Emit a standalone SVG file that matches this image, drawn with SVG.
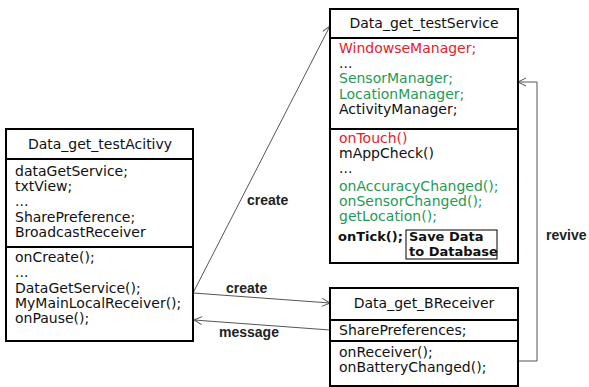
<svg xmlns="http://www.w3.org/2000/svg" width="589" height="387" viewBox="0 0 589 387">
<defs>
<marker id="arr" markerWidth="10" markerHeight="10" refX="9" refY="5" orient="auto" markerUnits="userSpaceOnUse">
<path d="M1,1 L9,5 L1,9" fill="none" stroke="#555" stroke-width="1"/>
</marker>
<style>
.box{fill:#fff;stroke:#000;stroke-width:2}
.ln{stroke:#000;stroke-width:2}
.t{font-family:"DejaVu Sans","Liberation Sans",sans-serif;font-size:14px;fill:#111}
.c{text-anchor:middle}
.r{fill:#e8202a}
.g{fill:#1f9a55}
.b{font-weight:bold;font-size:13px}
.lab{font-family:"Liberation Sans",Arial,sans-serif;font-size:14px;font-weight:bold;fill:#222}
.con{fill:none;stroke:#555;stroke-width:1}
</style>
</defs>
<rect width="589" height="387" fill="#fff"/>
<g id="connectors">
<line class="con" x1="193" y1="293" x2="330" y2="26" marker-end="url(#arr)"/>
<line class="con" x1="193" y1="293" x2="330" y2="303" marker-end="url(#arr)"/>
<line class="con" x1="330" y1="330" x2="194" y2="320" marker-end="url(#arr)"/>
<polyline class="con" points="518,361 537,361 537,82 518,82" marker-end="url(#arr)"/>
<text class="lab" x="247" y="205">create</text>
<text class="lab" x="226" y="293">create</text>
<text class="lab" x="219" y="337">message</text>
<text class="lab" x="546" y="240">revive</text>
</g>
<g id="activity">
<rect class="box" x="6" y="129" width="187" height="212"/>
<line class="ln" x1="6" y1="159" x2="193" y2="159"/>
<line class="ln" x1="6" y1="247" x2="193" y2="247"/>
<text class="t c" x="100" y="149">Data_get_testAcitivy</text>
<text class="t" x="15" y="176">dataGetService;</text>
<text class="t" x="15" y="191">txtView;</text>
<text class="t" x="15" y="206">...</text>
<text class="t" x="15" y="222">SharePreference;</text>
<text class="t" x="15" y="237">BroadcastReceiver</text>
<text class="t" x="15" y="262">onCreate();</text>
<text class="t" x="15" y="277">...</text>
<text class="t" x="15" y="293">DataGetService();</text>
<text class="t" x="15" y="308">MyMainLocalReceiver();</text>
<text class="t" x="15" y="323">onPause();</text>
</g>
<g id="service">
<rect class="box" x="330" y="9" width="188" height="254"/>
<line class="ln" x1="330" y1="38" x2="518" y2="38"/>
<line class="ln" x1="330" y1="129" x2="518" y2="129"/>
<text class="t c" x="424" y="28">Data_get_testService</text>
<text class="t r" x="339" y="53">WindowseManager;</text>
<text class="t" x="339" y="68">...</text>
<text class="t g" x="339" y="83">SensorManager;</text>
<text class="t g" x="339" y="99">LocationManager;</text>
<text class="t" x="339" y="114">ActivityManager;</text>
<text class="t r" x="339" y="143">onTouch()</text>
<text class="t" x="339" y="158">mAppCheck()</text>
<text class="t" x="339" y="173">...</text>
<text class="t g" x="339" y="191">onAccuracyChanged();</text>
<text class="t g" x="339" y="206">onSensorChanged();</text>
<text class="t g" x="339" y="221">getLocation();</text>
<text class="t b" x="338" y="241">onTick();</text>
<rect x="406" y="230" width="91" height="29" fill="#fff" stroke="#000" stroke-width="1"/>
<text class="t b" x="409" y="241">Save Data</text>
<text class="t b" x="409" y="256">to Database</text>
</g>
<g id="breceiver">
<rect class="box" x="330" y="288" width="188" height="98"/>
<line class="ln" x1="330" y1="320" x2="518" y2="320"/>
<line class="ln" x1="330" y1="341" x2="518" y2="341"/>
<text class="t c" x="424" y="308">Data_get_BReceiver</text>
<text class="t" x="339" y="335">SharePreferences;</text>
<text class="t" x="339" y="357">onReceiver();</text>
<text class="t" x="339" y="372">onBatteryChanged();</text>
</g>
</svg>
